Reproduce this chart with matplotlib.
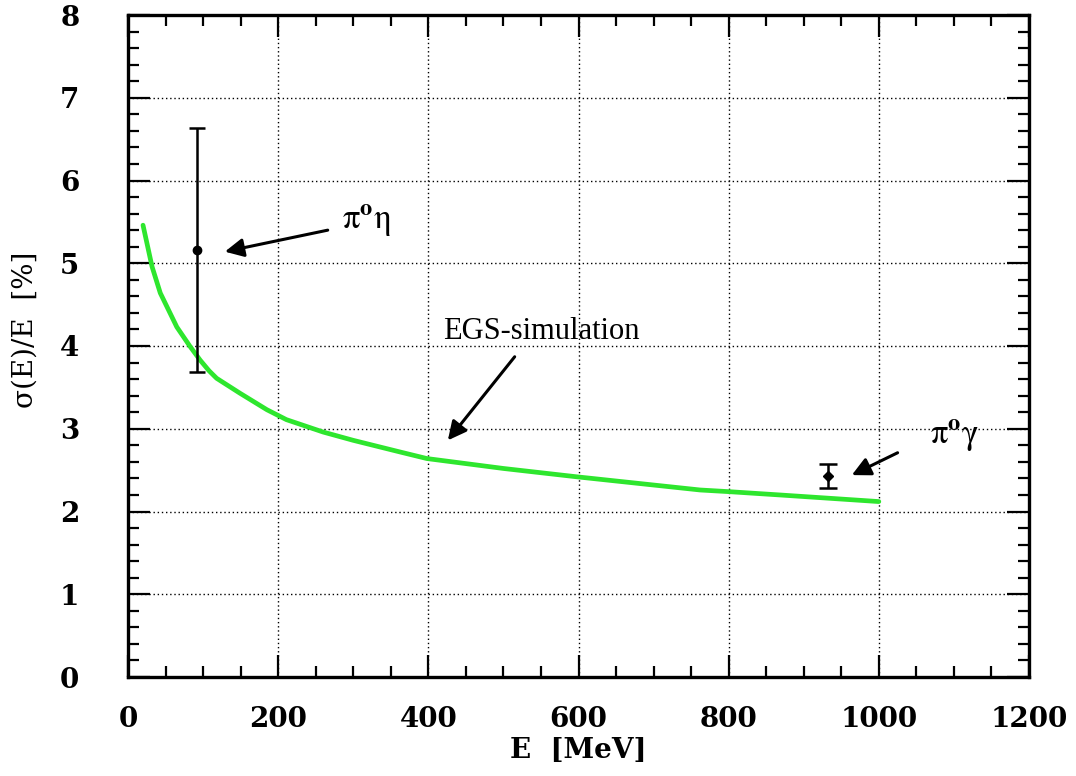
import numpy as np
import matplotlib.pyplot as plt
from matplotlib.ticker import MultipleLocator

plt.rcParams['mathtext.fontset'] = 'stix'

# EGS simulated energy resolution
E_sim = [20, 32, 43, 65, 83, 96, 108, 118, 149, 185, 211, 260, 300,
         362, 398, 500, 597, 700, 762, 800, 868, 1000]
res_sim = [5.46, 4.96, 4.64, 4.23, 3.99, 3.83, 3.70, 3.61, 3.43, 3.23, 3.11, 2.96, 2.86,
           2.72, 2.64, 2.52, 2.42, 2.32, 2.26, 2.24, 2.20, 2.12]

# measured points: pi0 eta and pi0 gamma
E_meas = [92, 932]
res_meas = [5.16, 2.43]
res_err = [1.47, 0.15]

fig = plt.figure(figsize=(10.76, 7.76), dpi=100)
ax = fig.add_axes([128/1076, 1 - 677/776, (1029 - 128)/1076, (677 - 15)/776])

ax.plot(E_sim, res_sim, color='#2ee62e', lw=3.4, solid_capstyle='round', zorder=3)
ax.errorbar(E_meas[:1], res_meas[:1], yerr=res_err[:1], fmt='o', color='black',
            ms=6, elinewidth=1.8, capsize=6, capthick=1.8, zorder=4)
ax.errorbar(E_meas[1:], res_meas[1:], yerr=res_err[1:], fmt='D', color='black',
            ms=5.5, elinewidth=1.8, capsize=6.5, capthick=1.8, zorder=4)

ax.set_xlim(0, 1200)
ax.set_ylim(0, 8)
ax.xaxis.set_major_locator(MultipleLocator(200))
ax.xaxis.set_minor_locator(MultipleLocator(50))
ax.yaxis.set_major_locator(MultipleLocator(1))
ax.yaxis.set_minor_locator(MultipleLocator(0.2))
ax.grid(True, which='major', color='black', linestyle=(0, (1, 2)), lw=1.0)

ax.tick_params(which='both', direction='in', top=True, right=True, width=1.6, colors='black')
ax.tick_params(which='major', length=16)
ax.tick_params(which='minor', length=8)
ax.tick_params(axis='x', which='major', pad=21)
ax.tick_params(axis='y', which='major', pad=35)
for sp in ax.spines.values():
    sp.set_linewidth(2.4)

for lab in ax.get_xticklabels() + ax.get_yticklabels():
    lab.set_fontfamily('DejaVu Serif')
    lab.set_fontweight('bold')
    lab.set_fontsize(20)

ax.set_xlabel('E  [MeV]', fontfamily='DejaVu Serif', fontweight='bold', fontsize=20)
ax.xaxis.set_label_coords(0.5, -0.09)
ax.set_ylabel('σ(E)/E  [%]', fontfamily='DejaVu Serif', fontsize=20)
ax.yaxis.set_label_coords(-0.099, 0.524)

# labels and arrows
arrow = dict(arrowstyle='-|>', color='black', lw=2.2, mutation_scale=28,
             shrinkA=0, shrinkB=0)
ax.text(318, 5.52, r'$\mathrm{\pi}^{\mathbf{o}}\mathrm{\eta}$', fontsize=25,
        ha='center', va='center')
ax.annotate('', xy=(129, 5.14), xytext=(266, 5.40), arrowprops=arrow)

ax.text(551, 4.17, 'EGS-simulation', fontfamily='Liberation Serif', fontsize=22,
        ha='center', va='center')
ax.annotate('', xy=(426, 2.86), xytext=(515, 3.87), arrowprops=arrow)

ax.text(1101, 2.92, r'$\mathrm{\pi}^{\mathbf{o}}\mathrm{\gamma}$', fontsize=25,
        ha='center', va='center')
ax.annotate('', xy=(964, 2.44), xytext=(1025, 2.71), arrowprops=arrow)

fig.savefig('out.png', dpi=100)
